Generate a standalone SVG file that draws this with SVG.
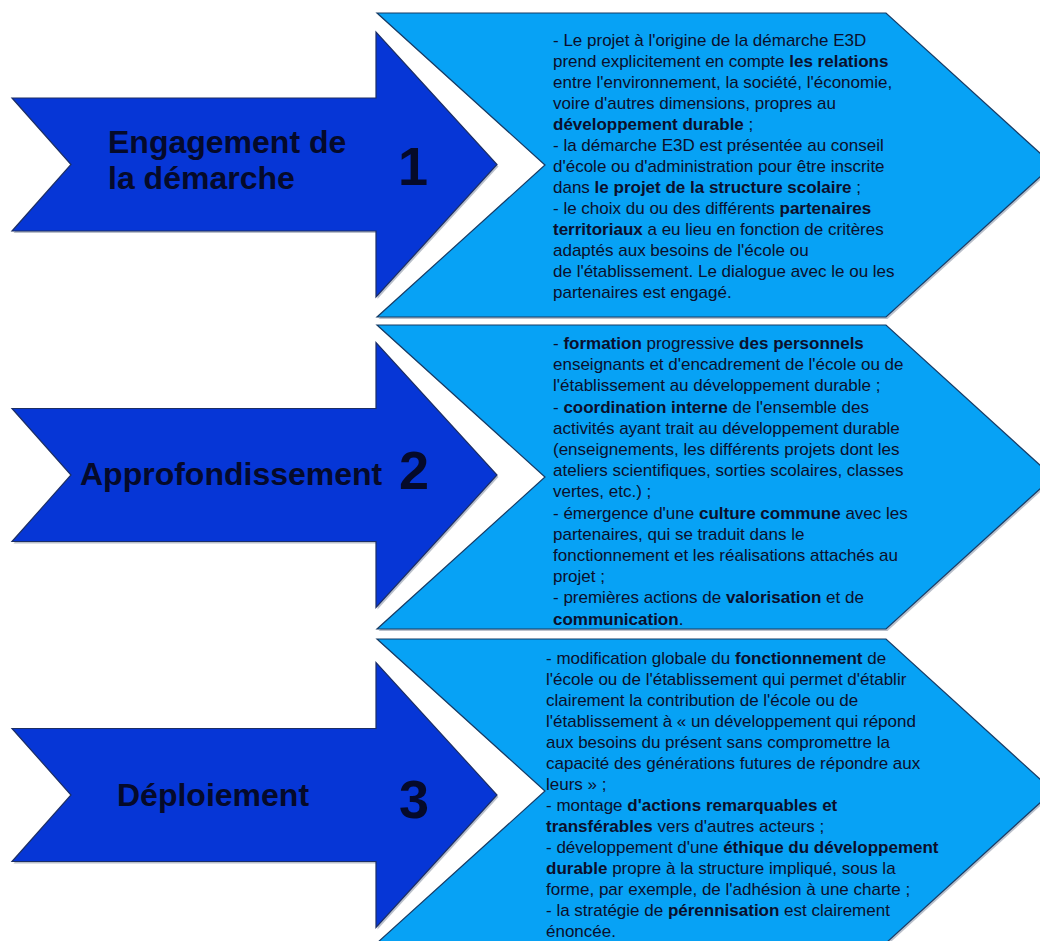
<svg xmlns="http://www.w3.org/2000/svg" xmlns:xlink="http://www.w3.org/1999/xlink" width="1040" height="941" viewBox="0 0 1040 941">
<style>
.shadow{fill:#8c96a8;opacity:0.6}
.arrow{fill:#0636d6;stroke:#1c2f66;stroke-width:1.2}
.chev{fill:#07a2f5;stroke:#173c66;stroke-width:1.2}
.lbl{font-family:'Liberation Sans',Arial,sans-serif;font-weight:bold;font-size:32px;fill:#050a2a}
.num{font-family:'Liberation Sans',Arial,sans-serif;font-weight:bold;font-size:54px;fill:#050a2a;text-anchor:middle}
.body{font-family:'Liberation Sans',Arial,sans-serif;font-size:17px;fill:#0b0f2c}
.b{font-weight:bold}
</style>
<defs>
<polygon id="arrowShape" points="12,98 376,98 376,32 497,164.5 376,297 376,231 12,231 71,164.5"/>
<polygon id="chevShape" points="377,13 886,13 1053,165 886,317 377,317 545,165"/>
</defs>
<rect width="1040" height="941" fill="#ffffff"/>
<g id="connectors"/>

<g id="step1">
<use xlink:href="#arrowShape" class="shadow" transform="translate(1.5,2)"/>
<use xlink:href="#arrowShape" class="arrow"/>
<text class="lbl" x="108" y="153">Engagement de</text>
<text class="lbl" x="108" y="189">la démarche</text>
<text class="num" x="413" y="185">1</text>
</g>

<g id="step2" transform="translate(0,310.5)">
<use xlink:href="#arrowShape" class="shadow" transform="translate(1.5,2)"/>
<use xlink:href="#arrowShape" class="arrow"/>
<text class="lbl" x="80" y="174">Approfondissement</text>
<text class="num" x="414" y="178">2</text>
</g>

<g id="step3" transform="translate(0,630.5)">
<use xlink:href="#arrowShape" class="shadow" transform="translate(1.5,2)"/>
<use xlink:href="#arrowShape" class="arrow"/>
<text class="lbl" x="117" y="175">Déploiement</text>
<text class="num" x="414" y="187">3</text>
</g>

<g id="desc1">
<use xlink:href="#chevShape" class="shadow" transform="translate(1.5,2)"/>
<use xlink:href="#chevShape" class="chev"/>
<text class="body" x="553" y="46">- Le projet à l'origine de la démarche E3D</text>
<text class="body" x="553" y="67">prend explicitement en compte <tspan class="b">les relations</tspan></text>
<text class="body" x="553" y="88">entre l'environnement, la société, l'économie,</text>
<text class="body" x="553" y="109">voire d'autres dimensions, propres au</text>
<text class="body" x="553" y="130"><tspan class="b">développement durable</tspan> ;</text>
<text class="body" x="553" y="151">- la démarche E3D est présentée au conseil</text>
<text class="body" x="553" y="172">d'école ou d'administration pour être inscrite</text>
<text class="body" x="553" y="193">dans <tspan class="b">le projet de la structure scolaire</tspan> ;</text>
<text class="body" x="553" y="214">- le choix du ou des différents <tspan class="b">partenaires</tspan></text>
<text class="body" x="553" y="235"><tspan class="b">territoriaux</tspan> a eu lieu en fonction de critères</text>
<text class="body" x="553" y="256">adaptés aux besoins de l'école ou</text>
<text class="body" x="553" y="277">de l'établissement. Le dialogue avec le ou les</text>
<text class="body" x="553" y="298">partenaires est engagé.</text>
</g>

<g id="desc2">
<use xlink:href="#chevShape" class="shadow" transform="translate(1.5,314)"/>
<use xlink:href="#chevShape" class="chev" transform="translate(0,312)"/>
<text class="body" x="553" y="349">- <tspan class="b">formation</tspan> progressive <tspan class="b">des personnels</tspan></text>
<text class="body" x="553" y="370.2">enseignants et d'encadrement de l'école ou de</text>
<text class="body" x="553" y="391.4">l'établissement au développement durable ;</text>
<text class="body" x="553" y="412.6">- <tspan class="b">coordination interne</tspan> de l'ensemble des</text>
<text class="body" x="553" y="433.8">activités ayant trait au développement durable</text>
<text class="body" x="553" y="455">(enseignements, les différents projets dont les</text>
<text class="body" x="553" y="476.2">ateliers scientifiques, sorties scolaires, classes</text>
<text class="body" x="553" y="497.4">vertes, etc.) ;</text>
<text class="body" x="553" y="518.6">- émergence d'une <tspan class="b">culture commune</tspan> avec les</text>
<text class="body" x="553" y="539.8">partenaires, qui se traduit dans le</text>
<text class="body" x="553" y="561">fonctionnement et les réalisations attachés au</text>
<text class="body" x="553" y="582.2">projet ;</text>
<text class="body" x="553" y="603.4">- premières actions de <tspan class="b">valorisation</tspan> et de</text>
<text class="body" x="553" y="624.6"><tspan class="b">communication</tspan>.</text>
</g>

<g id="desc3">
<use xlink:href="#chevShape" class="shadow" transform="translate(1.5,628)"/>
<use xlink:href="#chevShape" class="chev" transform="translate(0,626)"/>
<text class="body" x="546" y="664">- modification globale du <tspan class="b">fonctionnement</tspan> de</text>
<text class="body" x="546" y="685">l'école ou de l'établissement qui permet d'établir</text>
<text class="body" x="546" y="706">clairement la contribution de l'école ou de</text>
<text class="body" x="546" y="727">l'établissement à « un développement qui répond</text>
<text class="body" x="546" y="748">aux besoins du présent sans compromettre la</text>
<text class="body" x="546" y="769">capacité des générations futures de répondre aux</text>
<text class="body" x="546" y="790">leurs » ;</text>
<text class="body" x="546" y="811">- montage <tspan class="b">d'actions remarquables et</tspan></text>
<text class="body" x="546" y="832"><tspan class="b">transférables</tspan> vers d'autres acteurs ;</text>
<text class="body" x="546" y="853">- développement d'une <tspan class="b">éthique du développement</tspan></text>
<text class="body" x="546" y="874"><tspan class="b">durable</tspan> propre à la structure impliqué, sous la</text>
<text class="body" x="546" y="895">forme, par exemple, de l'adhésion à une charte ;</text>
<text class="body" x="546" y="916">- la stratégie de <tspan class="b">pérennisation</tspan> est clairement</text>
<text class="body" x="546" y="936.5">énoncée.</text>
</g>
</svg>
